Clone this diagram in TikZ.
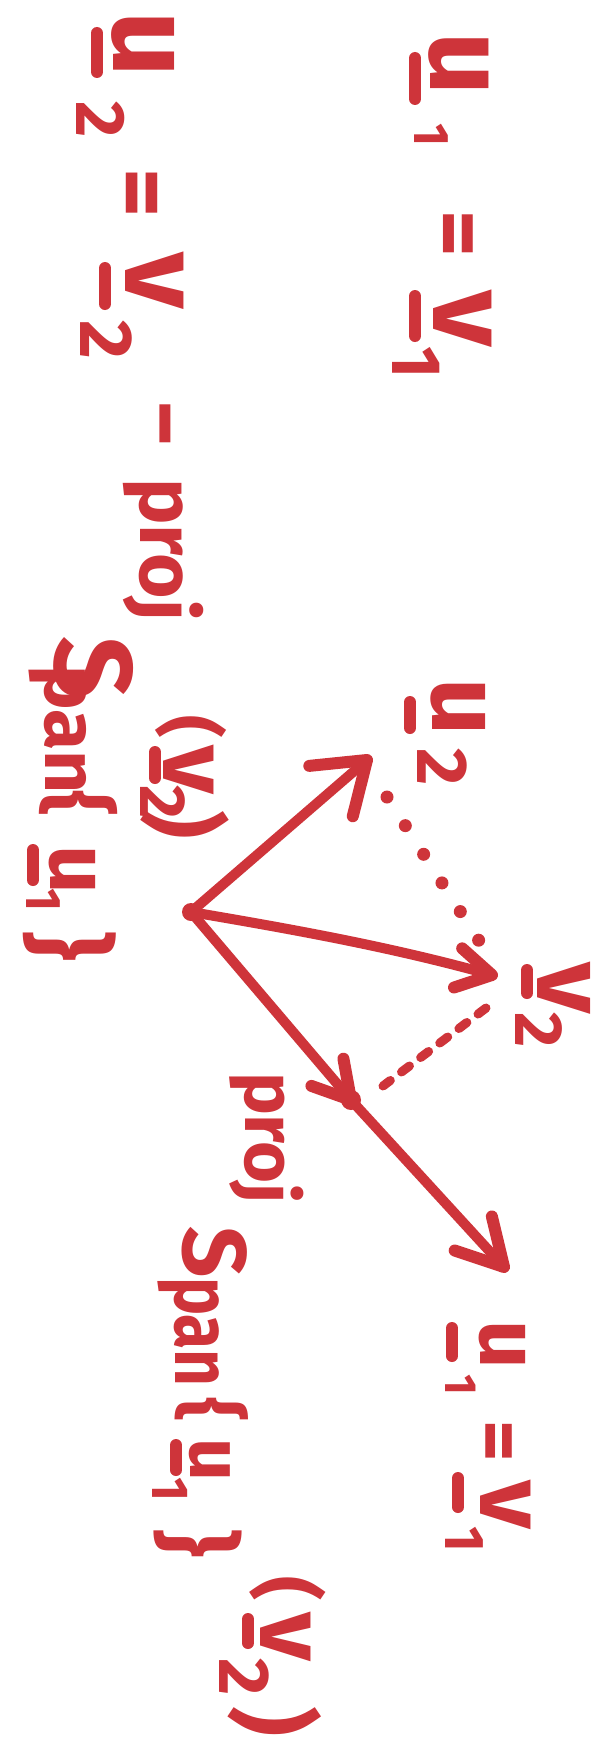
\documentclass[tikz,border=0pt]{standalone}
\usepackage{fontspec}
\setmainfont{Fira Sans}
\usetikzlibrary{calc}
\definecolor{ink}{RGB}{206,52,58}
\tikzset{
  hw/.style={rotate=-90, anchor=base west, inner sep=0pt, outer sep=0pt, text=ink},
  ul/.style={draw=ink, line width=12pt, line cap=round},
  vec/.style={draw=ink, line width=10pt, line cap=round},
  barb/.style={draw=ink, line width=12pt, line cap=round, line join=round},
  dotline/.style={draw=ink, line width=13pt, line cap=round, dash pattern=on 0pt off 34pt},
  dashline/.style={draw=ink, line width=9pt, line cap=round, dash pattern=on 10pt off 14pt},
}
\newcommand\hwt[5]{\node[hw,font=\fontsize{#4}{#4}\selectfont\bfseries] (#1) at (#2,#3) {#5};}
\newcommand\hwul[3]{\draw[ul] (#1,#2) -- (#1,#3);}
\newcommand\barbs[4]{\draw[barb] ($(#1)!#3!#4:(#2)$) -- (#1) -- ($(#1)!#3!-#4:(#2)$);}
\begin{document}
\begin{tikzpicture}[x=1pt,y=-1pt]
\fill[white] (0,0) rectangle (612,1742);
\useasboundingbox (0,0) rectangle (612,1742);

% ---- top right: u1 = v1
\hwt{tu1}{430}{33}{110}{u}
\hwul{415}{58}{99}
\hwt{t1a}{414}{124}{50}{1}
\hwt{teq}{428}{210}{90}{=}
\hwt{tv1}{433}{290}{110}{v}
\hwul{415}{296}{336}
\hwt{t1b}{392}{346}{70}{1}

% ---- left column: u2 = v2 - proj_{Span{u1}}(v2)
\hwt{lu2}{113}{12}{115}{u}
\hwul{97}{33}{72}
\hwt{l2a}{76}{102}{70}{2}
\hwt{leq}{110}{168}{95}{=}
\hwt{lv2}{125}{252}{110}{v}
\hwul{105}{268}{304}
\hwt{l2b}{80}{320}{75}{2}
\hwt{lmin}{135}{400}{90}{−}
\hwt{lproj}{140}{478}{78}{proj}
\hwt{lS}{55}{636}{110}{S}
\hwt{lpan}{45}{665}{75}{pan}
\hwt{lbl}{50}{790}{80}{\{}
\hwul{33}{850}{880}
\hwt{lu}{50}{845}{85}{u}
\hwt{l1c}{27}{888}{50}{1}
\hwt{lbr}{36}{930}{95}{\}}
\hwt{lpo}{166}{715}{70}{(}
\hwt{lv}{163}{745}{95}{v}
\hwul{155}{752}{778}
\hwt{l2c}{140}{785}{65}{2}
\hwt{lpc}{154}{810}{87}{)}

% ---- vectors
\coordinate (O) at (191,912);
\coordinate (U2) at (367,760);
\coordinate (V2) at (492,975);
\coordinate (P) at (351,1100);
\coordinate (U1) at (504,1267);
\coordinate (D1) at (387,797);
\coordinate (D2) at (490,958);
\coordinate (E1) at (486,1008);
\coordinate (E2) at (383,1086);

\draw[vec] (O) -- (U2);
\draw[vec] (O) .. controls (291,929) and (392,947) .. (V2);
\draw[vec] (O) -- (P) -- (U1);
\barbs{U2}{O}{58pt}{35}
\barbs{V2}{O}{40pt}{30}
\barbs{P}{O}{42pt}{30}
\barbs{U1}{P}{52pt}{29}
\fill[ink] (O) circle (9);
\fill[ink] (P) circle (10);
\draw[dotline] (D1) -- (D2);
\draw[dashline] (E1) -- (E2);

% ---- labels of vectors
\hwt{du2}{432}{678}{100}{u}
\hwul{410}{702}{728}
\hwt{d2a}{417}{748}{72}{2}
\hwt{dv2}{537}{962}{100}{v}
\hwul{527}{970}{993}
\hwt{d2b}{515}{1012}{68}{2}

% ---- bottom: proj_{Span{u1}}(v2)
\hwt{bproj}{245}{1072}{72}{proj}
\hwt{bS}{183}{1226}{90}{S}
\hwt{bpan}{175}{1277}{80}{\scalebox{0.8}[1]{pan}}
\hwt{bbl}{185}{1397}{75}{\{}
\hwul{176}{1445}{1470}
\hwt{bu}{190}{1438}{75}{u}
\hwt{b1}{152}{1477}{52}{1}
\hwt{bbr}{166}{1528}{90}{\}}
\hwt{bpo}{261}{1576}{75}{(}
\hwt{bv}{260}{1612}{95}{v}
\hwul{248}{1619}{1643}
\hwt{b2}{219}{1658}{72}{2}
\hwt{bpc}{242}{1706}{92}{)}

% ---- lower right: u1 = v1
\hwt{ru1}{480}{1320}{85}{u}
\hwul{452}{1328}{1356}
\hwt{r1a}{445}{1374}{45}{1}
\hwt{req}{472}{1420}{80}{=}
\hwt{rv1}{480}{1480}{95}{v}
\hwul{458}{1478}{1507}
\hwt{r1b}{445}{1526}{56}{1}
\end{tikzpicture}
\end{document}
